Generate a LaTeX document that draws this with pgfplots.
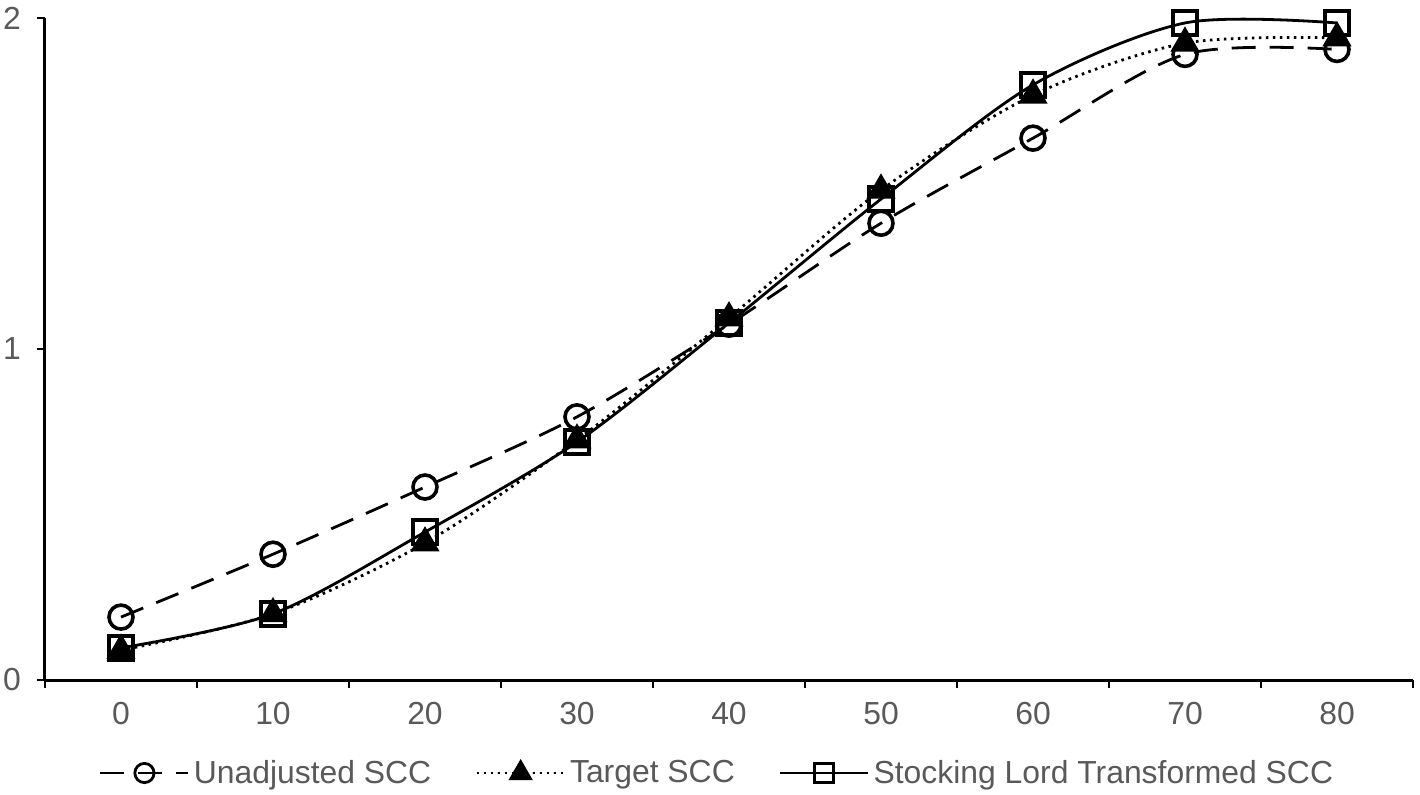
\documentclass[border=0pt]{standalone}
\usepackage{pgfplots}
\pgfplotsset{compat=1.18}
\usepackage{fontspec}
\setmainfont{Liberation Sans}
\definecolor{txtgray}{HTML}{595959}
\begin{document}
\begin{tikzpicture}
\begin{axis}[
    scale only axis,
    width=684bp, height=331bp,
    xmin=-5, xmax=85, ymin=0, ymax=2,
    axis lines*=left,
    axis line style={line width=1.5bp, black},
    xtick={0,10,...,80},
    minor xtick={-5,5,...,85},
    ytick={0,1,2},
    tick align=outside,
    major x tick style={draw=none},
    minor tick length=4bp,
    major tick length=4bp,
    every tick/.style={black, line width=1.2bp},
    tick label style={font=\fontsize{16}{19}\selectfont, text=txtgray},
    /pgf/number format/assume math mode=true,
    xticklabel style={yshift=-3.5bp},
    yticklabel style={xshift=-4.5bp},
    legend columns=3,
    legend style={draw=none, fill=none, at={(0.492,-0.1405)}, anchor=center,
        font=\fontsize{16}{19}\selectfont, text=txtgray,
        /tikz/every even column/.append style={column sep=20bp}},
    legend cell align=left,
    mark size=6bp,
]
\addplot[black, line width=1.4bp, smooth, dash pattern=on 12bp off 7bp,
    mark=o, mark options={solid, line width=1.8bp},
    legend image code/.code={\draw[mark repeat=2, mark phase=2, mark options={solid, scale=0.8}] plot coordinates {(0bp,0bp) (22bp,0bp) (44bp,0bp)};}]
coordinates {
(0,0.190) (10,0.380) (20,0.583) (30,0.795) (40,1.075) (50,1.380) (60,1.637) (70,1.890) (80,1.905)
};
\addlegendentry{Unadjusted SCC}
\addplot[black, line width=1.4bp, smooth, dash pattern=on 1.3bp off 2.2bp,
    mark=triangle*, mark size=7bp, mark options={solid, fill=black},
    legend image code/.code={\draw[mark repeat=2, mark phase=2, mark options={solid, fill=black, scale=0.8}] plot coordinates {(0bp,0bp) (22bp,0bp) (44bp,0bp)};}]
coordinates {
(0,0.090) (10,0.200) (20,0.414) (30,0.725) (40,1.094) (50,1.480) (60,1.767) (70,1.924) (80,1.940)
};
\addlegendentry{Target SCC}
\addplot[black, line width=1.4bp, smooth, solid,
    mark=square, mark options={solid, line width=1.8bp},
    legend image code/.code={\draw[mark repeat=2, mark phase=2, mark options={solid, scale=0.8}] plot coordinates {(0bp,0bp) (22bp,0bp) (44bp,0bp)};}]
coordinates {
(0,0.097) (10,0.200) (20,0.447) (30,0.719) (40,1.079) (50,1.453) (60,1.798) (70,1.985) (80,1.985)
};
\addlegendentry{Stocking Lord Transformed SCC}
\end{axis}
\pgfresetboundingbox
\path[use as bounding box] (-22.5bp,-57.5bp) rectangle (687.5bp,340bp);
\end{tikzpicture}
\end{document}
